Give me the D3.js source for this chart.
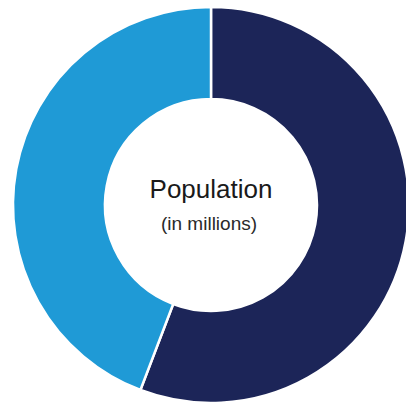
<!DOCTYPE html>
<html>
<head>
<meta charset="utf-8">
<script src="https://cdn.jsdelivr.net/npm/d3@7"></script>
<style>
  html, body { margin: 0; padding: 0; background: #fff; }
  svg { display: block; }
</style>
</head>
<body>
<svg id="chart" width="406" height="404"></svg>
<script>
const categories = ["Group A", "Group B"];
const values = [55.8, 44.2];
const colors = ["#1c2558", "#1f9ad6"];
const titleLines = ["Population", "(in millions)"];

const svg = d3.select("#chart");
const cx = 211, cy = 205, outerR = 198, innerR = 106;

const pie = d3.pie().sort(null).value(d => d.value);
const arc = d3.arc().innerRadius(innerR).outerRadius(outerR);
const data = categories.map((c, i) => ({ name: c, value: values[i] }));
const color = d3.scaleOrdinal().domain(categories).range(colors);

const g = svg.append("g").attr("transform", `translate(${cx},${cy})`);
g.selectAll("path")
  .data(pie(data))
  .join("path")
  .attr("d", arc)
  .attr("fill", d => color(d.data.name))
  .attr("stroke", "#ffffff")
  .attr("stroke-width", 2.5);

g.append("text")
  .attr("x", 0).attr("y", -7)
  .attr("text-anchor", "middle")
  .attr("font-family", "Liberation Sans, Arial, sans-serif")
  .attr("font-size", 26)
  .attr("fill", "#1a1a1a")
  .text(titleLines[0]);

g.append("text")
  .attr("x", -2).attr("y", 25)
  .attr("text-anchor", "middle")
  .attr("font-family", "Liberation Sans, Arial, sans-serif")
  .attr("font-size", 19)
  .attr("fill", "#2a2a2a")
  .text(titleLines[1]);
</script>
</body>
</html>
